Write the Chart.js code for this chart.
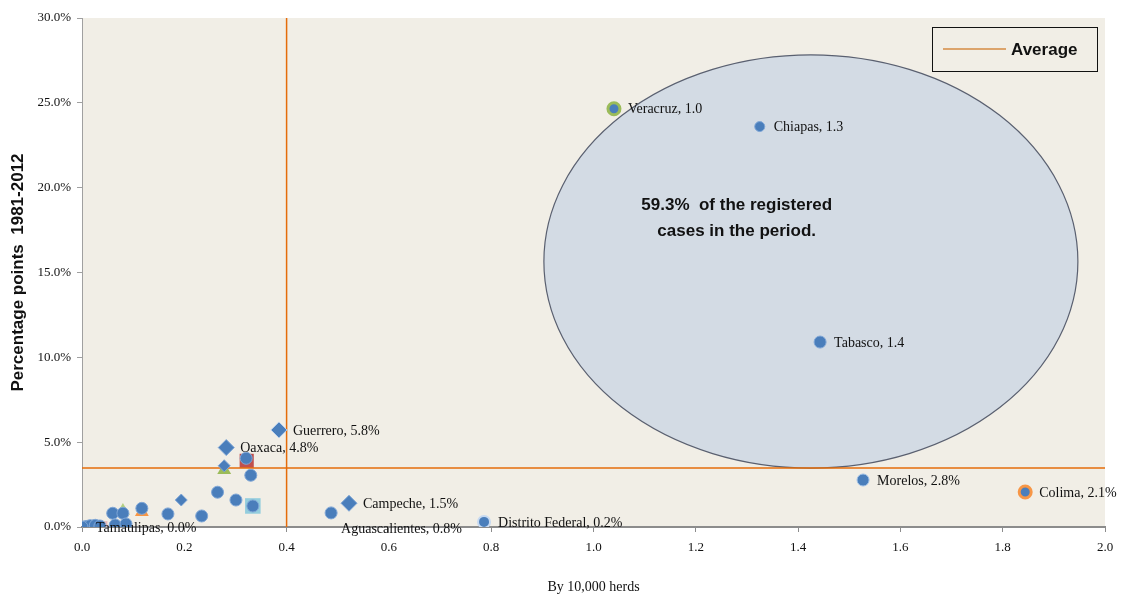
<!DOCTYPE html>
<html><head><meta charset="utf-8">
<script src="https://cdn.jsdelivr.net/npm/chart.js@4.4.1/dist/chart.umd.min.js"></script>
<style>html,body{margin:0;padding:0;background:#fff}#wrap{width:1123px;height:600px;position:relative}</style>
</head><body><div id="wrap"><canvas id="c"></canvas></div>
<script>
// ---- data ----
const stateNames  = ['Veracruz','Chiapas','Tabasco','Morelos','Colima','Distrito Federal','Campeche','Aguascalientes','Guerrero','Oaxaca','Tamaulipas'];
const stateX      = [1.04, 1.325, 1.443, 1.527, 1.844, 0.786, 0.522, 0.487, 0.385, 0.282, 0.0];
const stateY      = [24.65, 23.6, 10.9, 2.77, 2.06, 0.3, 1.4, 0.83, 5.72, 4.68, 0.0];
const stateLabels = ['Veracruz, 1.0','Chiapas, 1.3','Tabasco, 1.4','Morelos, 2.8%','Colima, 2.1%','Distrito Federal, 0.2%','Campeche, 1.5%','Aguascalientes, 0.8%','Guerrero, 5.8%','Oaxaca, 4.8%','Tamaulipas, 0.0%'];

const otherX = [0.008, 0.016, 0.026, 0.035, 0.06, 0.08, 0.065, 0.086, 0.117, 0.168, 0.194, 0.234, 0.265, 0.278, 0.301, 0.321, 0.33, 0.334];
const otherY = [0.03, 0.08, 0.1, 0.06, 0.81, 0.81, 0.12, 0.18, 1.1, 0.77, 1.59, 0.65, 2.05, 3.61, 1.59, 4.05, 3.05, 1.24];

const overlayX = [0.322, 0.278, 0.334, 0.117, 0.08, 0.04];
const overlayY = [3.9, 3.36, 1.24, 0.88, 0.94, 0.05];

const avgX = 0.4;
const avgY = 3.48;
const legendLabel = 'Average';

const xTicks = [0.0, 0.2, 0.4, 0.6, 0.8, 1.0, 1.2, 1.4, 1.6, 1.8, 2.0];
const yTicks = [0, 5, 10, 15, 20, 25, 30];
const xTitle = 'By 10,000 herds';
const yTitle = 'Percentage points  1981-2012';
const noteLines = ['59.3%  of the registered', 'cases in the period.'];

// ---- styles ----
const BLUE = '#4a7ebb';
const statePointStyle = ['circle','circle','circle','circle','circle','circle','rectRot','circle','rectRot','rectRot','circle'];
const stateRadius = [6,5,6,6,6,6,8,6,8,8,6];
const stateBorder = ['#9bbb59','#7fa6d6','#7fa6d6','#9fc0e6','#f79646','#c6d9f1','#7fa6d6','#7fa6d6','#b9d0ec','#7fa6d6','#7fa6d6'];
const stateBorderW = [3,1,1,1,3,2,1,1,1,1,1];
const labelPlace = ['right','right','right','right','right','right','right','below','right','right','right'];

const otherStyle = ['circle','circle','circle','circle','circle','circle','circle','circle','circle','circle','rectRot','circle','circle','rectRot','circle','circle','circle','circle'];
const overlayStyle = ['rect','triangle','rect','triangle','triangle','rect'];
const overlayColor = ['#c0504d','#9bbb59','#93cddd','#f79646','#b3cf80','#e6b9b8'];
const overlayRadius = [10,8,11,8,8,7];

const pts = (xs, ys) => xs.map((x, i) => ({x: x, y: ys[i]}));

const bgPlugin = {
  id: 'bg',
  beforeDraw(chart) {
    const {ctx, chartArea: a} = chart;
    ctx.save();
    ctx.fillStyle = '#f1eee6';
    ctx.fillRect(a.left, a.top, a.right - a.left, a.bottom - a.top);
    ctx.restore();
  },
  beforeDatasetsDraw(chart, args, opts) {
    const {ctx, scales: {x, y}} = chart;
    const e = opts.ellipse;
    const cx = x.getPixelForValue(e.cx), cy = y.getPixelForValue(e.cy);
    const rx = x.getPixelForValue(e.cx + e.rx) - cx;
    const ry = cy - y.getPixelForValue(e.cy + e.ry);
    ctx.save();
    ctx.beginPath();
    ctx.ellipse(cx, cy, rx, ry, 0, 0, Math.PI * 2);
    ctx.fillStyle = '#d3dbe4';
    ctx.fill();
    ctx.lineWidth = 1.2;
    ctx.strokeStyle = '#5a6070';
    ctx.stroke();
    ctx.fillStyle = '#111';
    ctx.font = 'bold 17px "Liberation Sans", Arial, sans-serif';
    ctx.textAlign = 'center';
    ctx.textBaseline = 'middle';
    const tx = x.getPixelForValue(e.textX), ty = y.getPixelForValue(e.textY);
    noteLines.forEach((t, i) => ctx.fillText(t, tx, ty + i * 26));
    ctx.restore();
  },
  afterDatasetsDraw(chart) {
    const {ctx} = chart;
    const meta = chart.getDatasetMeta(0);
    ctx.save();
    ctx.fillStyle = '#111';
    ctx.font = '14px "Liberation Serif", "Times New Roman", serif';
    ctx.textBaseline = 'middle';
    meta.data.forEach((p, i) => {
      const t = stateLabels[i];
      ctx.textAlign = 'left';
      if (labelPlace[i] === 'below') {
        ctx.fillText(t, p.x + 10, p.y + 16);
      } else {
        ctx.fillText(t, p.x + 14, p.y + 1);
      }
    });
    // legend
    ctx.fillStyle = '#f1eee6';
    ctx.fillRect(932.5, 27.5, 165, 44);
    ctx.strokeStyle = '#111';
    ctx.lineWidth = 1;
    ctx.strokeRect(932.5, 27.5, 165, 44);
    ctx.strokeStyle = '#dca46c';
    ctx.lineWidth = 2;
    ctx.beginPath(); ctx.moveTo(943, 49); ctx.lineTo(1006, 49); ctx.stroke();
    ctx.fillStyle = '#111';
    ctx.font = 'bold 17px "Liberation Sans", Arial, sans-serif';
    ctx.textAlign = 'left';
    ctx.fillText(legendLabel, 1011, 50);
    ctx.restore();
  }
};

new Chart(document.getElementById('c'), {
  type: 'scatter',
  data: {
    datasets: [
      { label: 'States', data: pts(stateX, stateY), order: 1,
        pointStyle: statePointStyle, pointRadius: stateRadius, backgroundColor: BLUE,
        borderColor: stateBorder, borderWidth: stateBorderW },
      { label: 'Other', data: pts(otherX, otherY), order: 1,
        pointStyle: otherStyle, pointRadius: 6, backgroundColor: BLUE, borderColor: '#7fa6d6', borderWidth: 1 },
      { label: 'Overlay', data: pts(overlayX, overlayY), order: 3,
        pointStyle: overlayStyle, pointRadius: overlayRadius, backgroundColor: overlayColor, borderWidth: 0 },
      { label: legendLabel, type: 'line', data: [{x: avgX, y: yTicks[0]}, {x: avgX, y: yTicks[yTicks.length - 1]}],
        order: 2, borderColor: '#e46c0a', borderWidth: 1.5, pointRadius: 0, fill: false },
      { label: legendLabel + ' ', type: 'line', data: [{x: xTicks[0], y: avgY}, {x: xTicks[xTicks.length - 1], y: avgY}],
        order: 2, borderColor: '#e46c0a', borderWidth: 1.5, pointRadius: 0, fill: false }
    ]
  },
  options: {
    responsive: true, maintainAspectRatio: false, animation: false,
    layout: { padding: { top: 18, right: 18, left: 0, bottom: 0 } },
    plugins: {
      legend: { display: false }, tooltip: { enabled: false },
      bg: { ellipse: { cx: 1.425, cy: 15.65, rx: 0.522, ry: 12.18, textX: 1.28, textY: 18.95 } }
    },
    scales: {
      x: {
        type: 'linear', min: 0, max: 2,
        afterBuildTicks: s => { s.ticks = xTicks.map(v => ({value: v})); },
        afterFit: s => { s.height = 73; },
        grid: { drawOnChartArea: false, drawTicks: true, tickLength: 5, color: '#8c8c8c' },
        border: { display: true, color: '#8c8c8c', width: 2 },
        ticks: { padding: 8, color: '#111', font: { family: '"Liberation Serif", serif', size: 13 },
                 callback: v => Number(v).toFixed(1) },
        title: { display: true, text: xTitle, color: '#111', padding: { top: 0, bottom: 4 },
                 font: { family: '"Liberation Serif", serif', size: 14 } }
      },
      y: {
        type: 'linear', min: 0, max: 30,
        afterBuildTicks: s => { s.ticks = yTicks.map(v => ({value: v})); },
        afterFit: s => { s.width = 82; },
        grid: { drawOnChartArea: false, drawTicks: true, tickLength: 5, color: '#a0a0a0' },
        border: { display: true, color: '#a0a0a0', width: 1 },
        ticks: { padding: 6, color: '#111', font: { family: '"Liberation Serif", serif', size: 13 },
                 callback: v => Number(v).toFixed(1) + '%' },
        title: { display: true, text: yTitle, color: '#111', padding: { top: 8, bottom: 0 },
                 font: { family: '"Liberation Sans", Arial, sans-serif', size: 17, weight: 'bold' } }
      }
    }
  },
  plugins: [bgPlugin]
});
</script>
</body></html>
